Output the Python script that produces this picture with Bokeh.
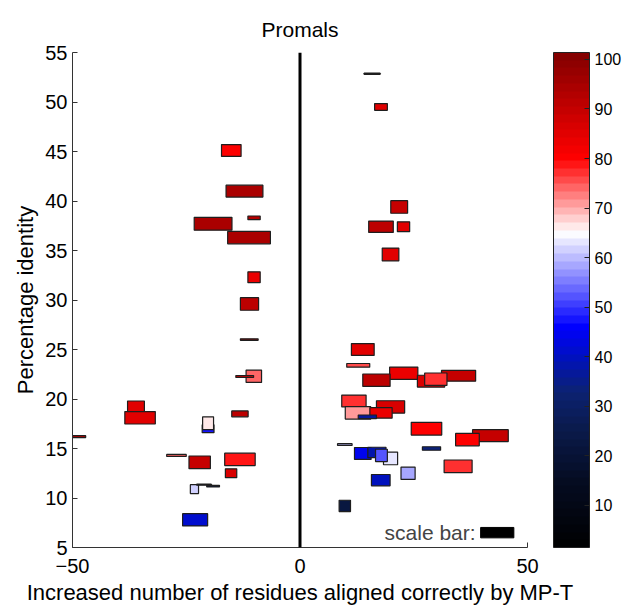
import numpy as np
from bokeh.plotting import figure
from bokeh.models import ColumnDataSource, LinearColorMapper, Span, Label, ColorBar, FixedTicker
from bokeh.transform import transform
from bokeh.embed import file_html
from bokeh.resources import INLINE

# ---- data: one box per alignment (centre x, centre y, width, height, colour value)
box_x = [-15.1, -12.2, -10.1, -19.1, -11.2, -10.1, -11.1, -11.15, -10.15, -12.15,
         -36.05, -35.15, -13.2, -20.2, -20.2, -48.6, -27.15, -22.05, -13.2, -15.15,
         -23.2, -21.1, -19.1, -23.05,
         15.85, 17.8, 21.8, 17.8, 22.75, 19.9, 13.8, 12.8, 22.8, 16.8,
         34.85, 28.8, 29.85, 11.85, 12.75, 19.9, 17.8, 14.8, 27.8, 41.85,
         36.8, 9.85, 28.9, 19.9, 13.8, 16.9, 17.9, 34.75, 23.75, 17.75, 9.85]
box_y = [45.1, 41.0, 38.3, 37.7, 36.3, 32.3, 29.6, 26.0, 22.3, 22.27,
         19.2, 18.1, 18.5, 17.0, 17.55, 16.2, 14.3, 13.6, 13.9, 12.5,
         10.9, 11.35, 11.2, 7.8,
         52.85, 49.5, 39.4, 37.4, 37.4, 34.6, 25.0, 23.4, 22.6, 21.9,
         22.35, 21.8, 22.0, 19.8, 18.6, 19.2, 18.6, 18.2, 17.0, 16.3,
         15.9, 15.4, 15.0, 14.0, 14.5, 14.6, 14.3, 13.2, 12.5, 11.8, 9.2]
box_w = [4.3, 8.1, 2.7, 8.3, 9.4, 2.7, 4.0, 3.9, 3.4, 3.9,
         3.7, 6.7, 3.6, 2.6, 2.4, 3.0, 4.3, 4.7, 6.7, 2.5,
         1.8, 3.2, 2.8, 5.5,
         3.5, 2.8, 3.7, 5.4, 2.7, 3.65, 5.0, 5.05, 6.2, 6.0,
         7.5, 6.0, 4.9, 5.35, 5.6, 6.2, 4.9, 4.0, 6.7, 7.85,
         5.2, 3.2, 4.0, 3.1, 3.65, 4.0, 2.6, 6.15, 3.1, 4.1, 2.5]
box_h = [1.2, 1.2, 0.37, 1.3, 1.25, 1.1, 1.27, 0.15, 1.25, 0.2,
         1.2, 1.25, 0.6, 0.8, 1.3, 0.2, 0.2, 1.28, 1.25, 0.9,
         0.9, 0.1, 0.17, 1.24,
         0.12, 0.68, 1.27, 1.15, 1.0, 1.3, 1.2, 0.37, 1.25, 1.25,
         1.1, 1.2, 1.25, 1.2, 1.25, 1.25, 1.07, 0.37, 1.28, 1.2,
         1.25, 0.17, 0.35, 1.28, 1.2, 1.05, 1.25, 1.28, 1.25, 1.15, 1.15]
box_value = [81, 95, 93, 95, 94, 83, 92, 93, 74, 88,
             85, 85, 92, 47, 66, 92, 74, 89, 79, 86,
             61, 25, 25, 42,
             100, 85, 89, 92, 85, 85, 85, 76, 83, 92,
             89, 86, 77.5, 77, 71, 86, 83, 37, 80, 89,
             80, 60, 34, 63, 44, 38, 52, 77, 58.5, 40, 22]

scale_bar_x = [43.35]
scale_bar_y = [6.5]
scale_bar_w = [7.3]
scale_bar_h = [1.05]

x_ticks = [-50, 0, 50]
y_ticks = [5, 10, 15, 20, 25, 30, 35, 40, 45, 50, 55]
cbar_ticks = [10, 20, 30, 40, 50, 60, 70, 80, 90, 100]

# ---- colour map (blue-white-red, 64 steps)
c_low, c_high = 1.5, 101.4
anchor_vals = [1.5, 15, 25, 33, 40, 46, 65, 80, 101.4]
anchor_cols = ["#000000", "#050c22", "#0a1a4a", "#0c2272", "#0010c0",
               "#0000ff", "#ffffff", "#ff0000", "#800000"]
n_col = 64
rgb = np.array([[int(c[i:i + 2], 16) for i in (1, 3, 5)] for c in anchor_cols], dtype=float)
mids = c_low + (np.arange(n_col) + 0.5) * (c_high - c_low) / n_col
palette = []
for v in mids:
    r, g, b = (int(round(np.interp(v, anchor_vals, rgb[:, k]))) for k in range(3))
    palette.append("#%02x%02x%02x" % (r, g, b))
mapper = LinearColorMapper(palette=palette, low=c_low, high=c_high)

FONT = "Liberation Sans"

src = ColumnDataSource(dict(x=box_x, y=box_y, w=box_w, h=box_h, v=box_value))

p = figure(frame_width=455, frame_height=495, x_range=(-50, 50), y_range=(5, 55),
           output_backend="svg", toolbar_location=None, title="Promals",
           min_border_left=72, min_border_top=52, min_border_right=95, min_border_bottom=40)
p.rect(x="x", y="y", width="w", height="h", source=src,
       fill_color=transform("v", mapper), line_color="#1e1e1e", line_width=1.2)
p.rect(x=scale_bar_x, y=scale_bar_y, width=scale_bar_w, height=scale_bar_h,
       fill_color="black", line_color="black")
p.add_layout(Span(location=0, dimension="height", line_color="black", line_width=3))
p.add_layout(Label(x=38.6, y=scale_bar_y[0], text="scale bar:", text_align="right",
                   text_baseline="middle", text_font=FONT, text_font_size="21px"))

p.title.align = "center"
p.title.text_font = FONT
p.title.text_font_size = "21px"
p.title.text_font_style = "normal"
p.title.text_color = "black"
p.title.standoff = 23
p.grid.visible = False
p.outline_line_color = None
p.xaxis.ticker = x_ticks
p.yaxis.ticker = y_ticks
p.xaxis.axis_label = "Increased number of residues aligned correctly by MP-T"
p.yaxis.axis_label = "Percentage identity"
for ax in (p.xaxis, p.yaxis):
    ax.major_tick_in = 5
    ax.major_tick_out = 0
    ax.minor_tick_line_color = None
    ax.axis_line_color = "#333333"
    ax.major_tick_line_color = "#333333"
    ax.major_label_text_font = FONT
    ax.major_label_text_font_size = "20px"
    ax.major_label_text_color = "black"
    ax.axis_label_text_font = FONT
    ax.axis_label_text_font_size = "22px"
    ax.axis_label_text_font_style = "normal"
    ax.axis_label_text_color = "black"
    ax.axis_label_standoff = 4
p.xaxis.major_label_standoff = 11
p.yaxis.major_label_standoff = 5

cbar = ColorBar(color_mapper=mapper, ticker=FixedTicker(ticks=cbar_ticks),
                width=36, height=495, location=(26, 0), padding=0, margin=0,
                major_tick_in=5, major_tick_out=0, major_tick_line_color="#222222",
                minor_tick_line_color=None, bar_line_color="#222222",
                border_line_color=None, background_fill_color=None,
                label_standoff=5, major_label_text_font=FONT,
                major_label_text_font_size="16px", major_label_text_color="black")
p.add_layout(cbar, "right")

open("out.html", "w").write(file_html(p, INLINE))
